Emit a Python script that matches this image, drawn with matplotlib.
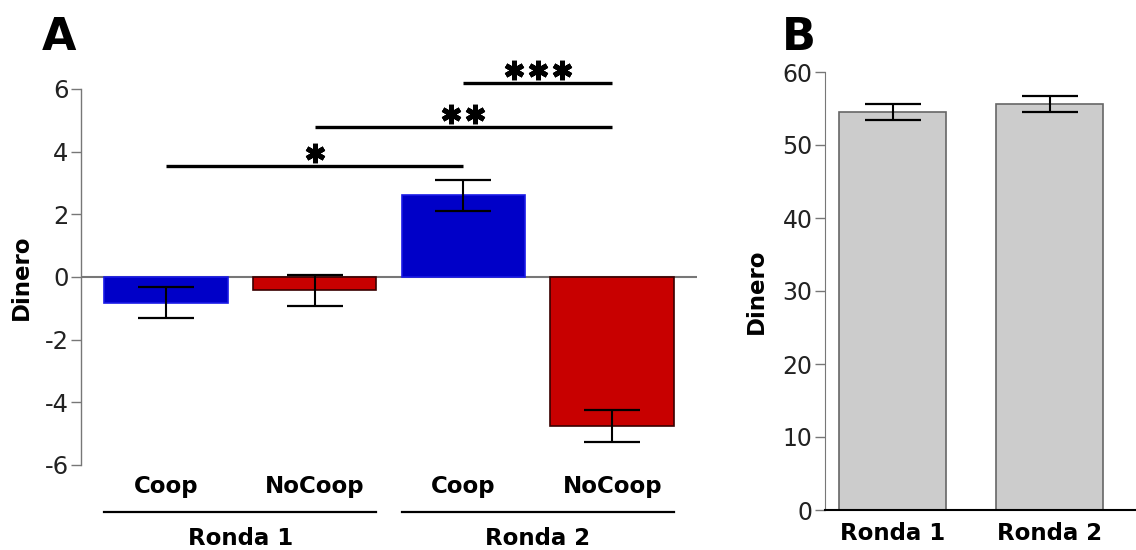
import matplotlib.pyplot as plt
from matplotlib import transforms

# panel A: change in money per condition
conds = ['Coop', 'NoCoop', 'Coop', 'NoCoop']
rondas = ['Ronda 1', 'Ronda 2']
means_a = [-0.82, -0.43, 2.61, -4.76]
err_a = [0.5, 0.5, 0.5, 0.5]
colors_a = ['#0000c8', '#c80000', '#0000c8', '#c80000']
edges_a = ['#1a1ae6', '#3a0000', '#1a1ae6', '#3a0000']

# significance brackets: (from bar, to bar, height, number of stars)
sig = [(0, 2, 3.53, 1), (1, 3, 4.78, 2), (2, 3, 6.2, 3)]

# panel B: total money per round
means_b = [54.5, 55.6]
err_b = [1.1, 1.1]

plt.rcParams['font.family'] = 'DejaVu Sans'
plt.rcParams['axes.unicode_minus'] = False
LBL = 16.5

fig = plt.figure(figsize=(11.36, 5.5), dpi=100)

# ---------------- A ----------------
ax = fig.add_axes([81 / 1136, 1 - 465 / 550, (697 - 81) / 1136, 376 / 550])
x = list(range(len(conds)))
ax.bar(x, means_a, width=0.83, color=colors_a, edgecolor=edges_a, linewidth=1.2, zorder=2)
ax.errorbar(x, means_a, yerr=err_a, fmt='none', ecolor='black', elinewidth=1.5,
            capsize=20, capthick=1.6, zorder=3)
ax.axhline(0, color='#777777', lw=1.5, zorder=1)

ax.set_xlim(-0.57, 3.57)
ax.set_ylim(-6, 6)
ax.set_yticks([-6, -4, -2, 0, 2, 4, 6])
ax.tick_params(axis='y', labelsize=17.5, labelcolor='#222222', length=7, width=1,
               color='#777777', pad=2)
ax.set_xticks(x)
ax.set_xticklabels(conds, fontweight='bold', fontsize=LBL)
ax.tick_params(axis='x', length=0, pad=7)
for s in ['top', 'right', 'bottom']:
    ax.spines[s].set_visible(False)
ax.spines['left'].set_color('#777777')
ax.spines['left'].set_linewidth(1)
ax.set_ylabel('Dinero', fontweight='bold', fontsize=LBL, labelpad=8)

# round groupings under the category labels
tr = transforms.blended_transform_factory(ax.transData, ax.transAxes)
for g, name in enumerate(rondas):
    left = 2 * g - 0.415
    right = 2 * g + 1.415
    ax.plot([left, right], [-0.125, -0.125], color='black', lw=1.6, transform=tr, clip_on=False)
    ax.text(2 * g + 0.5, -0.195, name, transform=tr, ha='center', va='center',
            fontweight='bold', fontsize=LBL)

# significance lines, asterisks drawn as six-armed markers above each line
for a, b, h, n in sig:
    ax.plot([a, b], [h, h], color='black', lw=2.4, solid_capstyle='butt', zorder=4, clip_on=False)
    for i in range(n):
        shift = transforms.ScaledTranslation((i - (n - 1) / 2) * 17.3 / 72, 9.5 / 72,
                                             fig.dpi_scale_trans)
        ax.plot([(a + b) / 2], [h], linestyle='none', marker=(6, 2, 0), markersize=14,
                markeredgewidth=3.6, color='black', transform=ax.transData + shift,
                clip_on=False, zorder=5)

fig.text(42 / 1136, 1 - 37 / 550, 'A', fontsize=32, fontweight='bold', va='center', ha='left')

# ---------------- B ----------------
bx = fig.add_axes([825 / 1136, 1 - 510 / 550, (1136 - 825) / 1136, 438 / 550])
xb = [0, 1]
bx.bar(xb, means_b, width=0.68, color='#cccccc', edgecolor='#666666', linewidth=1.2, zorder=2)
bx.errorbar(xb, means_b, yerr=err_b, fmt='none', ecolor='black', elinewidth=1.5,
            capsize=20, capthick=1.6, zorder=3)
bx.set_xlim(-0.43, 1.55)
bx.set_ylim(0, 60)
bx.set_yticks([0, 10, 20, 30, 40, 50, 60])
bx.tick_params(axis='y', labelsize=17, length=7, width=1, color='#777777',
               labelcolor='#222222', pad=2)
bx.set_xticks(xb)
bx.set_xticklabels(rondas, fontweight='bold', fontsize=LBL)
bx.tick_params(axis='x', length=0, pad=9)
bx.spines['top'].set_visible(False)
bx.spines['right'].set_visible(False)
bx.spines['left'].set_color('#777777')
bx.spines['bottom'].set_color('black')
bx.spines['bottom'].set_linewidth(1.5)
bx.set_ylabel('Dinero', fontweight='bold', fontsize=LBL, labelpad=10)

fig.text(782 / 1136, 1 - 38 / 550, 'B', fontsize=32, fontweight='bold', va='center', ha='left')

fig.savefig('out.png', dpi=100)
